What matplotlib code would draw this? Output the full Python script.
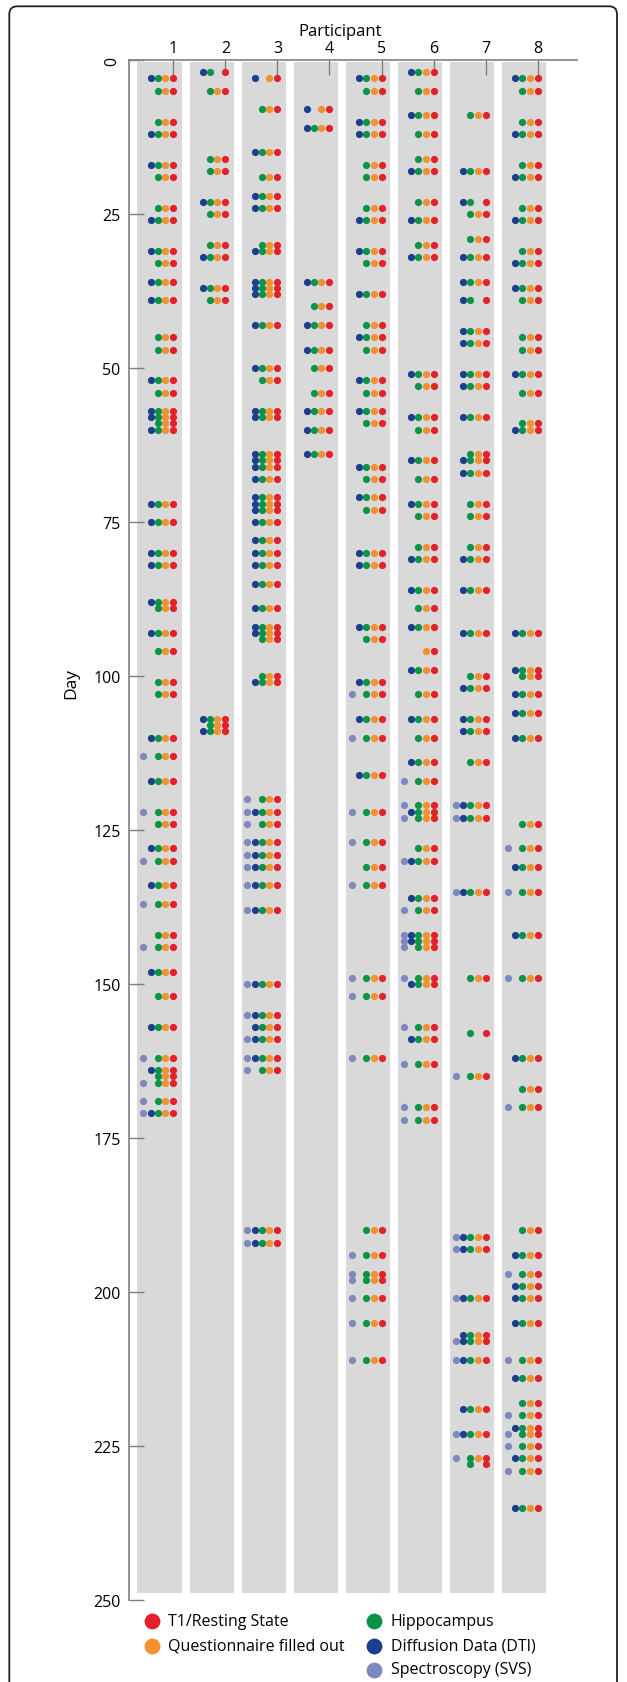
import matplotlib
matplotlib.use("Agg")
import matplotlib.pyplot as plt
from matplotlib.patches import FancyBboxPatch

# ---------------- data ----------------
PARTICIPANTS = [1, 2, 3, 4, 5, 6, 7, 8]
Y_TICKS = [0, 25, 50, 75, 100, 125, 150, 175, 200, 225, 250]

# scan codes per session: S=Spectroscopy, B=Diffusion (DTI), G=Hippocampus,
# Q=Questionnaire, T=T1/Resting State
P1_DAY = [3, 5, 10, 12, 17, 19, 24, 26, 31, 33, 36, 39, 45, 47, 52, 54, 57, 58, 59, 60,
          72, 75, 80, 82, 88, 89, 93, 96, 101, 103, 110, 113, 117, 122, 124, 128, 130,
          134, 137, 142, 144, 148, 152, 157, 162, 164, 165, 166, 169, 171]
P1_SCAN = ["BGQT", "GQT", "GQT", "BGQT", "BGQT", "GQT", "GQT", "BGQT", "BGQT", "GQT",
           "BGQT", "BGQT", "GQT", "GQT", "BGQT", "GQT", "BGQT", "BGQT", "GQT", "BGQT",
           "BGQT", "BGQT", "BGQT", "BGQT", "BGQT", "GQT", "BGQT", "GQT", "GQT", "GQT",
           "BGQT", "SGQT", "BGQT", "SGQT", "GQT", "BGQT", "SGQT", "BGQT", "SGQT", "GQT",
           "SGQT", "BGQT", "GQT", "BGQT", "SGQT", "BGQT", "GQT", "SGQT", "SGQT", "SBGQT"]

P2_DAY = [2, 5, 16, 18, 23, 25, 30, 32, 37, 39, 107, 108, 109]
P2_SCAN = ["BGT", "GQT", "GQT", "GQT", "BGQT", "GQT", "GQT", "BGQT", "BGQT", "GQT",
           "BGQT", "GQT", "BGQT"]

P3_DAY = [3, 8, 15, 19, 22, 24, 30, 31, 36, 37, 38, 43, 50, 52, 57, 58, 64, 65, 66, 68,
          71, 72, 73, 75, 78, 80, 82, 85, 89, 92, 93, 94, 100, 101, 120, 122, 124, 127,
          129, 131, 134, 138, 150, 155, 157, 159, 162, 164, 190, 192]
P3_SCAN = ["BQT", "GQT", "BGQT", "GQT", "BGQT", "BGQT", "GQT", "BGQT", "BGQT", "BGQT",
           "BGQT", "BGQT", "BGQT", "GQT", "BGQT", "BGQT", "BGQT", "BGQT", "BGQT", "BGQT",
           "BGQT", "BGQT", "BGQT", "BGQT", "BGQT", "BGQT", "BGQT", "BGQT", "BGQT", "BGQT",
           "BGQT", "GQT", "GQT", "BGQT", "SGQT", "SBGQT", "SGQT", "SBGQT", "SBGQT", "SBGQT",
           "SBGQT", "SBGQT", "SBGQT", "SBGQT", "BGQT", "SBGQT", "SBGQT", "SGQT", "SBGQT",
           "SBGQT"]

P4_DAY = [8, 11, 36, 40, 43, 47, 50, 54, 57, 60, 64]
P4_SCAN = ["BQT", "BGQT", "BGQT", "GQT", "BGQT", "BGQT", "GQT", "GQT", "BGQT", "BGQT",
           "BGQT"]

P5_DAY = [3, 5, 10, 12, 17, 19, 24, 26, 31, 33, 38, 43, 45, 47, 52, 54, 57, 59, 66, 68,
          71, 73, 80, 82, 92, 94, 101, 103, 107, 110, 116, 122, 127, 131, 134, 149, 152,
          162, 190, 194, 197, 198, 201, 205, 211]
P5_SCAN = ["BGQT", "GQT", "BGQT", "BGQT", "GQT", "GQT", "GQT", "BGQT", "BGQT", "GQT",
           "BGQT", "GQT", "BGQT", "GQT", "BGQT", "GQT", "BGQT", "GQT", "BGQT", "GQT",
           "BGQT", "GQT", "BGQT", "BGQT", "BGQT", "GQT", "BGQT", "SGQT", "BGQT", "SGQT",
           "BGQT", "SGQT", "SGQT", "GQT", "SGQT", "SGQT", "SGQT", "SGQT", "GQT", "SGQT",
           "SGQT", "SGQT", "SGQT", "SGQT", "SGQT"]

P6_DAY = [2, 5, 9, 12, 16, 18, 23, 26, 30, 32, 51, 53, 58, 60, 65, 68, 72, 74, 79, 81,
          86, 89, 92, 96, 99, 103, 107, 110, 114, 117, 121, 122, 123, 128, 130, 136, 138,
          142, 143, 144, 149, 150, 157, 159, 163, 170, 172]
P6_SCAN = ["BGQT", "GQT", "BGQT", "GQT", "GQT", "BGQT", "GQT", "BGQT", "GQT", "BGQT",
           "BGQT", "GQT", "BGQT", "GQT", "BGQT", "GQT", "BGQT", "GQT", "GQT", "BGQT",
           "BGQT", "GQT", "BGQT", "QT", "BGQT", "GQT", "BGQT", "GQT", "BGQT", "SGQT",
           "SGQT", "BGQT", "SGQT", "GQT", "SBGQT", "BGQT", "SGQT", "SBGQT", "SBGQT", "SGQT",
           "SGQT", "BGQT", "SGQT", "BGQT", "SGQT", "SGQT", "SGQT"]

P7_DAY = [9, 18, 23, 25, 29, 32, 36, 39, 44, 46, 51, 53, 58, 64, 65, 67, 72, 74, 79, 81,
          86, 93, 100, 102, 107, 109, 114, 121, 123, 135, 149, 158, 165, 191, 193, 201,
          207, 208, 211, 219, 223, 227, 228]
P7_SCAN = ["GQT", "BGQT", "BGT", "GQT", "GQT", "BGQT", "BGQT", "BGT", "BGQT", "BGQT",
           "BGQT", "BGQT", "BGQT", "GQT", "BGQT", "BGQT", "GQT", "GQT", "GQT", "BGQT",
           "BGQT", "BGQT", "GQT", "BGQT", "BGQT", "BGQT", "GQT", "SBGQT", "SBGQT", "SBGQT",
           "GQT", "GT", "SGQT", "SBGQT", "SBGQT", "SBGQT", "BGQT", "SBGQT", "SBGQT", "BGQT",
           "SBGQT", "SGQT", "GT"]

P8_DAY = [3, 5, 10, 12, 17, 19, 24, 26, 31, 33, 37, 39, 45, 47, 51, 54, 59, 60, 93, 99,
          100, 103, 106, 110, 124, 128, 131, 135, 142, 149, 162, 167, 170, 190, 194, 197,
          199, 201, 205, 211, 214, 218, 220, 222, 223, 225, 227, 229, 235]
P8_SCAN = ["BGQT", "GQT", "GQT", "BGQT", "GQT", "BGQT", "GQT", "BGQT", "GQT", "BGQT",
           "BGQT", "GQT", "GQT", "GQT", "BGQT", "GQT", "GQT", "BGQT", "BGQT", "BGQT",
           "GQT", "BGQT", "BGQT", "BGQT", "GQT", "SGQT", "BGQT", "SGQT", "BGQT", "SGQT",
           "BGQT", "GQT", "SGQT", "GQT", "BGQT", "SGQT", "BGQT", "BGQT", "BGQT", "SGQT",
           "BGQT", "GQT", "SGQT", "BGQT", "SGQT", "SGQT", "BGQT", "SGQT", "BGQT"]

ALL_DAYS = [P1_DAY, P2_DAY, P3_DAY, P4_DAY, P5_DAY, P6_DAY, P7_DAY, P8_DAY]
ALL_SCANS = [P1_SCAN, P2_SCAN, P3_SCAN, P4_SCAN, P5_SCAN, P6_SCAN, P7_SCAN, P8_SCAN]

SCAN_CODES = ["S", "B", "G", "Q", "T"]
SCAN_LABELS = {"T": "T1/Resting State", "Q": "Questionnaire filled out",
               "G": "Hippocampus", "B": "Diffusion Data (DTI)", "S": "Spectroscopy (SVS)"}

# ---------------- style ----------------
COLORS = {"T": "#E2222B", "Q": "#F29130", "G": "#0B9447", "B": "#1B3F8C", "S": "#7F88BE"}
OFFSETS = {"T": 0.0, "Q": -0.154, "G": -0.298, "B": -0.432, "S": -0.576}
GREY = "#D9D9D9"
AXC = "#7F7F7F"
FONT = ["Open Sans", "DejaVu Sans"]
plt.rcParams["font.family"] = FONT

W, H = 627, 1683
fig = plt.figure(figsize=(W / 100, H / 100), dpi=100)

ax_l, ax_r, ax_t, ax_b = 129, 577, 61, 1601
ax = fig.add_axes([ax_l / W, 1 - ax_b / H, (ax_r - ax_l) / W, (ax_b - ax_t) / H])
px_per_unit = 52.06
x0 = 1 + (ax_l - 173.3) / px_per_unit
x1 = 1 + (ax_r - 173.3) / px_per_unit
ax.set_xlim(x0, x1)
ax.set_ylim(250, 0)

# grey participant columns
ax.bar([p - 0.264 for p in PARTICIPANTS], 248.4, bottom=0.4, width=0.848,
       color=GREY, zorder=1, linewidth=0)

# dots
for p, days, scans in zip(PARTICIPANTS, ALL_DAYS, ALL_SCANS):
    for code in SCAN_CODES:
        xs = [p + OFFSETS[code] for d, s in zip(days, scans) if code in s]
        ys = [d for d, s in zip(days, scans) if code in s]
        ax.scatter(xs, ys, s=27, color=COLORS[code], linewidths=0, zorder=3)

# axes styling
for side in ["right", "bottom"]:
    ax.spines[side].set_visible(False)
for side in ["left", "top"]:
    ax.spines[side].set_color(AXC)
    ax.spines[side].set_linewidth(1.2)
ax.xaxis.tick_top()
ax.set_xticks(PARTICIPANTS)
ax.set_xticklabels([str(p) for p in PARTICIPANTS])
ax.set_yticks(Y_TICKS)
ax.set_yticklabels([str(t) for t in Y_TICKS])
ax.tick_params(axis="x", direction="in", length=11, width=1.0, color=AXC,
               labelsize=11.5, pad=3, top=True, bottom=False)
ax.tick_params(axis="y", direction="in", length=11, width=1.0, color=AXC,
               labelsize=11.5, pad=6)
for lab in ax.get_yticklabels():
    if lab.get_text() == "0":
        lab.set_rotation(90)
        lab.set_va("center")
ax.set_facecolor("none")

fig.text(340 / W, 1 - 31.7 / H, "Participant", ha="center", va="center", fontsize=12)
fig.text(71.7 / W, 1 - 683.3 / H, "Day", ha="center", va="center", rotation=90,
         fontsize=12.5)

# legend (manual, two columns)
leg_items = [("T", 151.7, 1622.3, 168.3), ("Q", 151.7, 1646.7, 168.3),
             ("G", 374.0, 1622.3, 390.7), ("B", 374.0, 1646.7, 390.7),
             ("S", 374.0, 1670.5, 390.7)]
lax = fig.add_axes([0, 0, 1, 1])
lax.set_xlim(0, W)
lax.set_ylim(H, 0)
lax.axis("off")
for code, mx, my, tx in leg_items:
    lax.scatter([mx], [my], s=130, color=COLORS[code], linewidths=0)
    lax.text(tx, my, SCAN_LABELS[code], ha="left", va="center", fontsize=11.5)

# figure frame
frame = FancyBboxPatch((9.3, 7.3), 607.7, 1700, boxstyle="round,pad=0,rounding_size=8",
                       transform=lax.transData, fill=False, edgecolor="#222222",
                       linewidth=1.3, clip_on=False)
lax.add_patch(frame)

fig.savefig("out.png", dpi=100)
